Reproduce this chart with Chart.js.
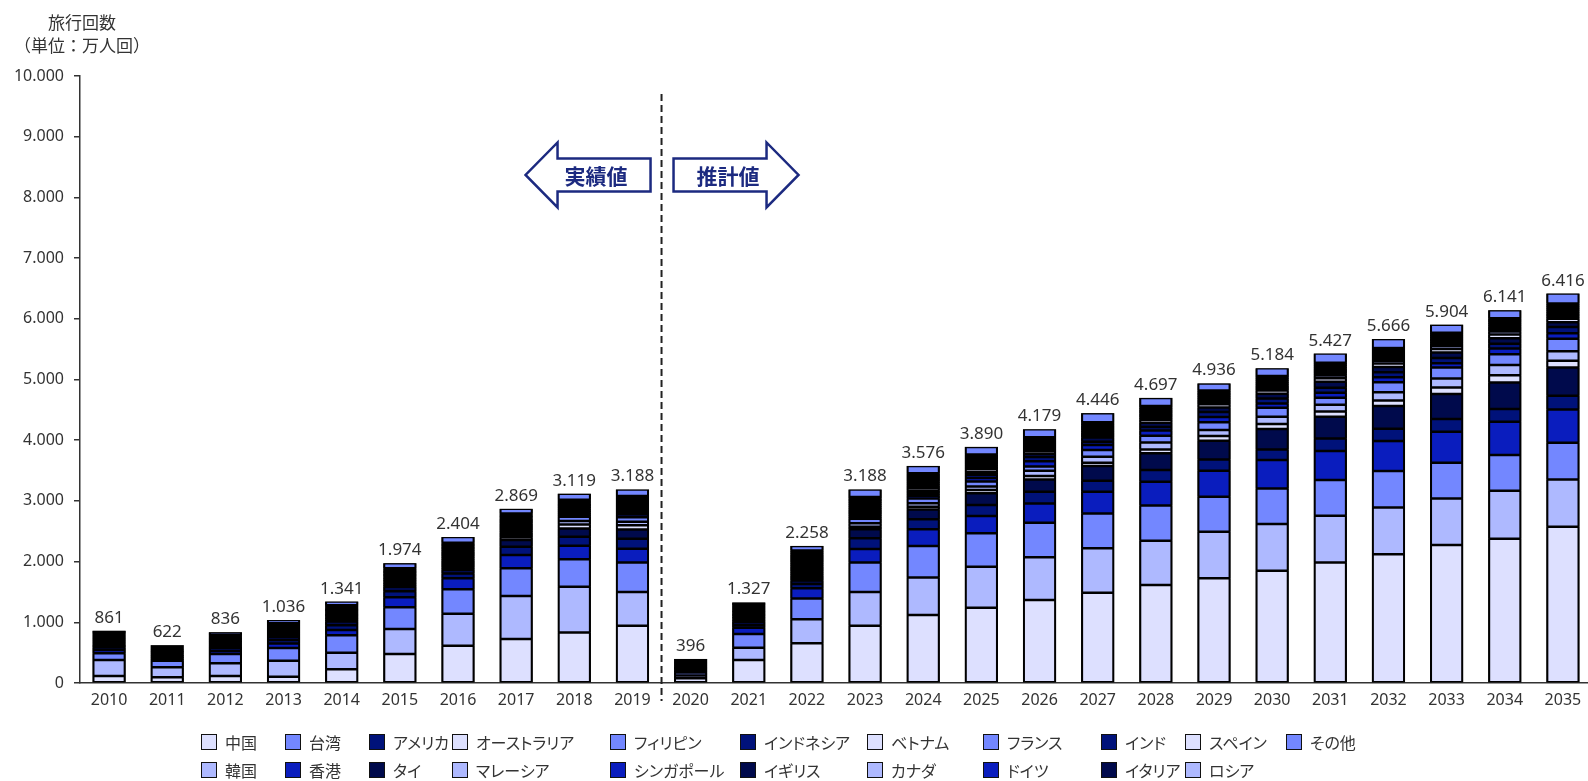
<!DOCTYPE html>
<html lang="ja">
<head>
<meta charset="utf-8">
<title>旅行回数の推移</title>
<script src="https://cdn.jsdelivr.net/npm/chart.js@4.4.1/dist/chart.umd.min.js"></script>
<style>
  html, body { margin: 0; padding: 0; background: #fff; overflow: hidden; }
  #wrap { position: relative; width: 1588px; height: 781px; overflow: hidden; }
  #chart { position: absolute; left: 0; top: 0; }
  .ytitle { position: absolute; left: 0; width: 164px; text-align: center; line-height: 22px;
            font: 17px 'Noto Sans CJK JP', sans-serif; color: #333; }
  #legend { position: absolute; left: 201px; top: 728px; display: grid;
            grid-template-columns: 84px 84px 83px 158px 130px 127px 116px 118px 84px 101px 120px;
            grid-template-rows: 28px 28px; grid-auto-flow: column;
            font: 16px 'Noto Sans CJK JP', sans-serif; font-feature-settings: "palt"; color: #333; }
  .item { display: flex; align-items: center; white-space: nowrap; }
  .sw { width: 16px; height: 16px; box-sizing: border-box; border: 1.5px solid #111; margin-right: 8px; }
</style>
</head>
<body>
<div id="wrap">
  <canvas id="chart" width="1600" height="781"></canvas>
  <div class="ytitle" style="top:9px">旅行回数</div>
  <div class="ytitle" style="top:32px">（単位：万人回）</div>
  <div id="legend"></div>
</div>
<script>
const years = ['2010','2011','2012','2013','2014','2015','2016','2017','2018','2019','2020','2021','2022',
               '2023','2024','2025','2026','2027','2028','2029','2030','2031','2032','2033','2034','2035'];

// 万人回, 2010-2019 actual, 2020-2035 estimate
const china       = [115, 93, 115, 104, 225, 478, 615, 725, 834, 944, 80, 379, 653, 944, 1120, 1241, 1367, 1488, 1614, 1724, 1850, 1987, 2122, 2273, 2377, 2575];
const korea       = [264, 165, 209, 264, 275, 411, 527, 708, 753, 555, 45, 203, 396, 555, 620, 675, 703, 730, 730, 768, 769, 769, 768, 768, 791, 779];
const taiwan      = [110, 110, 154, 209, 285, 357, 401, 456, 450, 488, 50, 225, 345, 488, 516, 549, 571, 576, 582, 577, 587, 587, 602, 588, 587, 604];
const hongkong    = [55, 35, 50, 75, 88, 165, 181, 219, 225, 225, 28, 104, 165, 220, 275, 285, 318, 357, 390, 428, 467, 478, 494, 510, 549, 549];
const usa         = [45, 30, 50, 55, 80, 100, 80, 137, 148, 165, 22, 44, 70, 176, 165, 182, 192, 181, 192, 187, 175, 209, 202, 209, 209, 225];
const thailand    = [20, 12, 20, 55, 60, 75, 60, 110, 137, 150, 24, 55, 60, 148, 164, 192, 203, 242, 275, 307, 335, 356, 376, 412, 439, 467];
const australia   = [25, 20, 22, 26, 35, 35, 42, 45, 65, 70, 14, 35, 40, 45, 45, 55, 56, 55, 65, 77, 83, 85, 90, 110, 120, 108];
const malaysia    = [16, 10, 15, 20, 28, 30, 37, 40, 55, 60, 10, 22, 38, 55, 55, 58, 85, 99, 115, 100, 120, 115, 135, 148, 165, 160];
const philippines = [12, 8, 11, 14, 22, 27, 33, 38, 70, 75, 12, 30, 40, 75, 80, 82, 70, 110, 110, 126, 150, 115, 165, 181, 180, 205];
const singapore   = [20, 17, 18, 22, 24, 30, 40, 38, 36, 42, 11, 22, 36, 38, 45, 60, 90, 82, 85, 90, 70, 80, 85, 70, 92, 92];
const indonesia   = [14, 9, 13, 15, 18, 24, 36, 36, 34, 40, 10, 20, 34, 36, 40, 50, 70, 55, 60, 80, 80, 85, 80, 85, 82, 100];
const uk          = [22, 19, 20, 22, 24, 27, 38, 34, 32, 40, 10, 20, 38, 36, 42, 45, 50, 70, 70, 75, 80, 95, 85, 90, 90, 80];
const vietnam     = [10, 6, 10, 12, 18, 22, 36, 36, 36, 42, 14, 30, 40, 40, 44, 48, 48, 40, 50, 52, 52, 60, 60, 60, 62, 55];
const canada      = [20, 15, 17, 18, 20, 24, 36, 32, 30, 38, 10, 18, 36, 36, 40, 42, 40, 36, 40, 40, 42, 44, 44, 46, 46, 44];
const france      = [18, 14, 17, 18, 20, 22, 34, 30, 28, 34, 10, 18, 36, 34, 38, 40, 36, 34, 36, 36, 38, 40, 40, 42, 42, 40];
const germany     = [16, 11, 14, 15, 16, 18, 30, 26, 24, 30, 8, 14, 32, 30, 36, 38, 34, 30, 32, 32, 34, 36, 36, 38, 38, 36];
const india       = [12, 9, 10, 10, 12, 14, 25, 22, 20, 26, 7, 14, 34, 30, 36, 34, 32, 32, 34, 34, 36, 38, 38, 40, 40, 38];
const italy       = [10, 7, 10, 11, 11, 13, 22, 22, 16, 22, 6, 12, 30, 28, 34, 32, 30, 28, 30, 30, 32, 34, 34, 36, 36, 34];
const spain       = [8, 6, 7, 8, 9, 10, 20, 20, 14, 20, 6, 12, 30, 26, 32, 30, 28, 26, 28, 28, 30, 32, 32, 34, 34, 32];
const russia      = [10, 8, 8, 10, 10, 10, 18, 20, 12, 16, 6, 10, 28, 24, 30, 28, 26, 24, 26, 26, 28, 30, 30, 32, 32, 30];
const others      = [39, 18, 46, 53, 61, 82, 93, 75, 100, 106, 13, 40, 77, 124, 119, 124, 130, 151, 133, 119, 126, 152, 148, 132, 130, 163];

const series = [
  ['中国', china], ['韓国', korea], ['台湾', taiwan], ['香港', hongkong], ['アメリカ', usa], ['タイ', thailand],
  ['オーストラリア', australia], ['マレーシア', malaysia], ['フィリピン', philippines], ['シンガポール', singapore],
  ['インドネシア', indonesia], ['イギリス', uk], ['ベトナム', vietnam], ['カナダ', canada], ['フランス', france],
  ['ドイツ', germany], ['インド', india], ['イタリア', italy], ['スペイン', spain], ['ロシア', russia], ['その他', others]
];

// six blues, repeated up the stack
const palette = ['#DDE0FF', '#AEB9FF', '#7387FF', '#0A1DBE', '#00127A', '#000A4C'];
const family = "'Noto Sans', 'Noto Sans CJK JP', sans-serif";
const ink = '#333';

const fmt = n => String(Math.round(n)).replace(/\B(?=(\d{3})+(?!\d))/g, '.');

const datasets = series.map(([label, data], i) => ({
  label, data,
  backgroundColor: palette[i % palette.length],
  borderColor: '#000',
  borderWidth: { top: 1.25, bottom: 1.25, left: 2, right: 2 },
  borderSkipped: false,
  inflateAmount: 0,
  barPercentage: 0.57,
  categoryPercentage: 1
}));

// solid black behind every stack so segment seams stay dark
const stackBacking = {
  id: 'stackBacking',
  beforeDatasetsDraw(chart) {
    const metas = chart.getSortedVisibleDatasetMetas();
    const first = metas[0], last = metas[metas.length - 1];
    const { ctx } = chart;
    ctx.save();
    ctx.fillStyle = '#000';
    first.data.forEach((bar, i) => {
      const { x, width, base } = bar.getProps(['x', 'width', 'base'], true);
      const { y } = last.data[i].getProps(['y'], true);
      ctx.fillRect(x - width / 2, y, width, base - y);
    });
    ctx.restore();
  }
};

// stack totals above each bar
const totalLabels = {
  id: 'totalLabels',
  afterDatasetsDraw(chart) {
    const { ctx, scales: { x, y } } = chart;
    ctx.save();
    ctx.font = `17px ${family}`;
    ctx.fillStyle = ink;
    ctx.textAlign = 'center';
    ctx.textBaseline = 'alphabetic';
    years.forEach((_, i) => {
      const sum = chart.data.datasets.reduce((s, d) => s + d.data[i], 0);
      ctx.fillText(fmt(sum), x.getPixelForValue(i), y.getPixelForValue(sum) - 8);
    });
    ctx.restore();
  }
};

function drawArrow(ctx, startX, tipX, cy, text) {
  const dir = Math.sign(tipX - startX);
  const headBase = tipX - dir * 32;
  const sh = 16.5, hh = 32.5;
  ctx.beginPath();
  ctx.moveTo(startX, cy - sh);
  ctx.lineTo(headBase, cy - sh);
  ctx.lineTo(headBase, cy - hh);
  ctx.lineTo(tipX, cy);
  ctx.lineTo(headBase, cy + hh);
  ctx.lineTo(headBase, cy + sh);
  ctx.lineTo(startX, cy + sh);
  ctx.closePath();
  ctx.fillStyle = '#fff';
  ctx.fill();
  ctx.lineWidth = 2.5;
  ctx.strokeStyle = '#1C2A80';
  ctx.lineJoin = 'miter';
  ctx.stroke();
  ctx.fillStyle = '#1C2A80';
  ctx.font = `bold 21px 'Noto Sans CJK JP', sans-serif`;
  ctx.textAlign = 'center';
  ctx.textBaseline = 'middle';
  ctx.fillText(text, (startX + headBase) / 2 + dir * 8, cy + 1);
}

// actual / estimate divider with arrows
const periodMarks = {
  id: 'periodMarks',
  afterDraw(chart) {
    const { ctx, chartArea, scales: { x, y } } = chart;
    const mid = (x.getPixelForValue(9) + x.getPixelForValue(10)) / 2;
    ctx.save();
    ctx.strokeStyle = '#222';
    ctx.lineWidth = 2;
    ctx.setLineDash([7, 4]);
    ctx.beginPath();
    ctx.moveTo(mid, chartArea.top + 18);
    ctx.lineTo(mid, chartArea.bottom + 18);
    ctx.stroke();
    ctx.setLineDash([]);
    const cy = y.getPixelForValue(8370);
    drawArrow(ctx, mid - 11, mid - 136, cy, '実績値');
    drawArrow(ctx, mid + 12, mid + 137, cy, '推計値');
    ctx.restore();
  }
};

const chart = new Chart(document.getElementById('chart'), {
  type: 'bar',
  data: { labels: years, datasets },
  options: {
    responsive: false,
    animation: false,
    layout: { padding: { top: 76, right: 8, left: 0, bottom: 0 } },
    plugins: { legend: { display: false }, tooltip: { enabled: false } },
    scales: {
      x: {
        stacked: true,
        grid: { display: false, drawTicks: false },
        border: { color: ink, width: 1.5 },
        ticks: { color: ink, font: { size: 16, family }, padding: 8, maxRotation: 0, autoSkip: false },
        afterFit: s => { s.height = 98; }
      },
      y: {
        stacked: true,
        min: 0,
        max: 10000,
        ticks: { stepSize: 1000, color: ink, font: { size: 16, family }, padding: 10, callback: v => fmt(v) },
        grid: { drawOnChartArea: false, drawTicks: true, tickLength: 6, color: ink, lineWidth: 1.5 },
        border: { color: ink, width: 1.5 },
        afterFit: s => { s.width = 80; }
      }
    }
  },
  plugins: [stackBacking, totalLabels, periodMarks]
});

// legend laid out column by column, two rows
const legendEl = document.getElementById('legend');
chart.data.datasets.forEach(ds => {
  const item = document.createElement('div');
  item.className = 'item';
  const sw = document.createElement('span');
  sw.className = 'sw';
  sw.style.background = ds.backgroundColor;
  const tx = document.createElement('span');
  tx.textContent = ds.label;
  item.append(sw, tx);
  legendEl.appendChild(item);
});
</script>
</body>
</html>
